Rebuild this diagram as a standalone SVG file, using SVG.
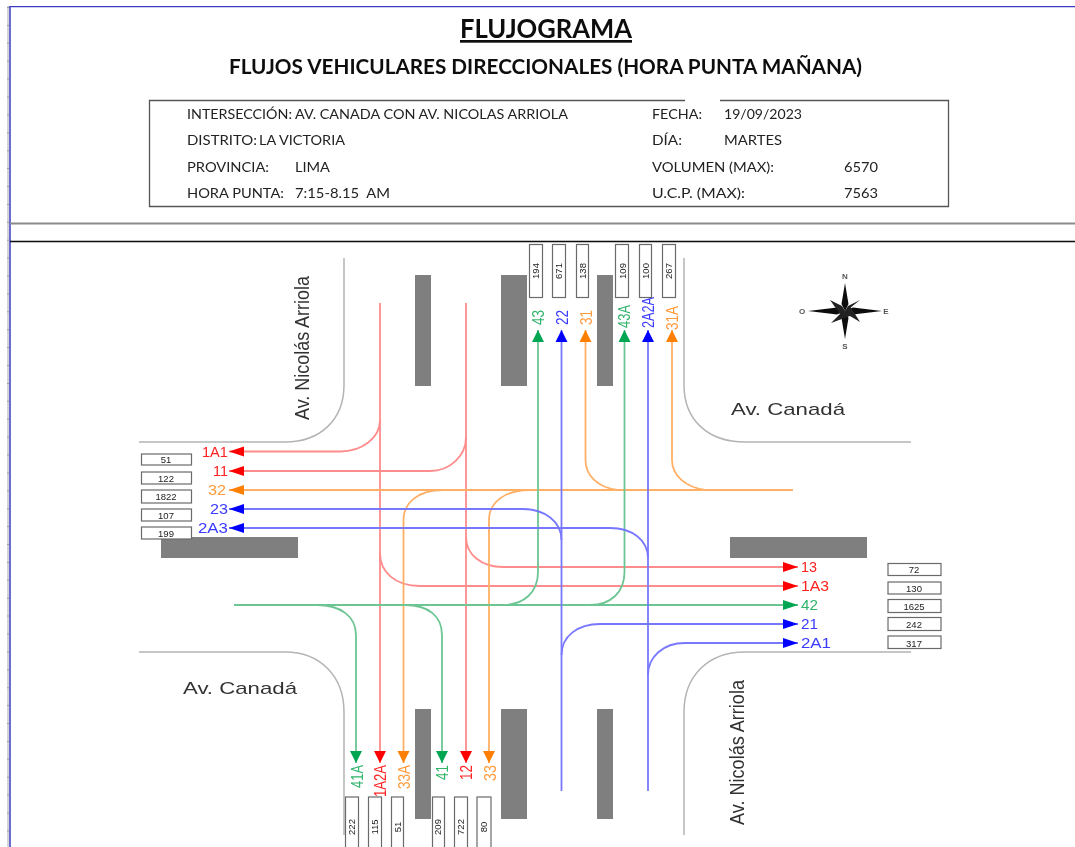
<svg xmlns="http://www.w3.org/2000/svg" width="1075" height="847" viewBox="0 0 1075 847">
<defs>
<style>
text{font-family:"Liberation Sans",Arial,sans-serif}
.hd text{font-family:Lato,"Liberation Sans",sans-serif;fill:#222}
.info{font-size:14px}
.curb{fill:none;stroke:#b4b4b4;stroke-width:1.5}
.blk{fill:#7f7f7f}
.box{fill:#fff;stroke:#6a6a6a;stroke-width:1.2}
.cnt{font-size:9.500px;fill:#222;text-anchor:middle}
.fl{fill:none;stroke-width:1.8}
.r{stroke:#ff8c8c}.g{stroke:#6cc593}.b{stroke:#7878ff}.o{stroke:#ffb066}
.lbl{font-size:15px}
.vl{font-size:17px}
.tr{fill:#ff2020}.tg{fill:#2fb36b}.tb{fill:#3a3aff}.to{fill:#ff9a3c}
.road{fill:#333}
</style>
<filter id="soft" x="0" y="0" width="100%" height="100%"><feGaussianBlur stdDeviation="0.45"/></filter>
<marker id="vr" markerUnits="userSpaceOnUse" markerWidth="13" markerHeight="13" refX="12" refY="6.500" orient="auto"><path d="M0 0.500L12 6.500L0 12.500Z" fill="#ff0000"/></marker>
<marker id="vg" markerUnits="userSpaceOnUse" markerWidth="13" markerHeight="13" refX="12" refY="6.500" orient="auto"><path d="M0 0.500L12 6.500L0 12.500Z" fill="#00a651"/></marker>
<marker id="vb" markerUnits="userSpaceOnUse" markerWidth="13" markerHeight="13" refX="12" refY="6.500" orient="auto"><path d="M0 0.500L12 6.500L0 12.500Z" fill="#0000ff"/></marker>
<marker id="vo" markerUnits="userSpaceOnUse" markerWidth="13" markerHeight="13" refX="12" refY="6.500" orient="auto"><path d="M0 0.500L12 6.500L0 12.500Z" fill="#ff8000"/></marker>
<marker id="hr" markerUnits="userSpaceOnUse" markerWidth="16" markerHeight="11" refX="15" refY="5.500" orient="auto"><path d="M0 0.500L15 5.500L0 10.500Z" fill="#ff0000"/></marker>
<marker id="hg" markerUnits="userSpaceOnUse" markerWidth="16" markerHeight="11" refX="15" refY="5.500" orient="auto"><path d="M0 0.500L15 5.500L0 10.500Z" fill="#00a651"/></marker>
<marker id="hb" markerUnits="userSpaceOnUse" markerWidth="16" markerHeight="11" refX="15" refY="5.500" orient="auto"><path d="M0 0.500L15 5.500L0 10.500Z" fill="#0000ff"/></marker>
<marker id="ho" markerUnits="userSpaceOnUse" markerWidth="16" markerHeight="11" refX="15" refY="5.500" orient="auto"><path d="M0 0.500L15 5.500L0 10.500Z" fill="#ff8000"/></marker>
</defs>
<rect width="1075" height="847" fill="#fff"/>
<g filter="url(#soft)">
<g id="frame">
<path d="M8 6V847" stroke="#d4d4d4" stroke-width="3" fill="none"/>
<path d="M7.500 7V847" stroke="#a0a0a0" stroke-width="3" stroke-dasharray="1 16.900" fill="none"/>
<path d="M9 6.500H1075" stroke="#3a3ac8" stroke-width="1.500" fill="none"/>
<path d="M10 6V847" stroke="#4a4ad0" stroke-width="1.600" fill="none"/>
<path d="M10 223.500H1075" stroke="#8a8a8a" stroke-width="1.800" fill="none"/>
<path d="M10 241.500H1075" stroke="#111" stroke-width="1.500" fill="none"/>
</g>
<g id="header" class="hd">
<text x="460" y="38" font-size="27" font-weight="700" text-decoration="underline" textLength="172" lengthAdjust="spacingAndGlyphs" style="fill:#111">FLUJOGRAMA</text>
<text x="229" y="74" font-size="21" font-weight="700" textLength="633" lengthAdjust="spacingAndGlyphs" style="fill:#111">FLUJOS VEHICULARES DIRECCIONALES (HORA PUNTA MAÑANA)</text>
</g>
<g id="info" class="hd">
<path d="M685 100.500H149.500V206.500H948.500V100.500H720" fill="none" stroke="#555" stroke-width="1.300"/>
<text class="info" x="187" y="119" textLength="105" lengthAdjust="spacingAndGlyphs">INTERSECCIÓN:</text>
<text class="info" x="295" y="119" textLength="273" lengthAdjust="spacingAndGlyphs">AV. CANADA CON AV. NICOLAS ARRIOLA</text>
<text class="info" x="187" y="145" textLength="70" lengthAdjust="spacingAndGlyphs">DISTRITO:</text>
<text class="info" x="259" y="145" textLength="86" lengthAdjust="spacingAndGlyphs">LA VICTORIA</text>
<text class="info" x="187" y="172" textLength="82" lengthAdjust="spacingAndGlyphs">PROVINCIA:</text>
<text class="info" x="295" y="172" textLength="35" lengthAdjust="spacingAndGlyphs">LIMA</text>
<text class="info" x="187" y="198" textLength="97" lengthAdjust="spacingAndGlyphs">HORA PUNTA:</text>
<text class="info" x="295" y="198" textLength="95" lengthAdjust="spacingAndGlyphs" xml:space="preserve">7:15-8.15  AM</text>
<text class="info" x="652" y="119" textLength="50" lengthAdjust="spacingAndGlyphs">FECHA:</text>
<text class="info" x="724" y="119" textLength="78" lengthAdjust="spacingAndGlyphs">19/09/2023</text>
<text class="info" x="652" y="145" textLength="30" lengthAdjust="spacingAndGlyphs">DÍA:</text>
<text class="info" x="724" y="145" textLength="58" lengthAdjust="spacingAndGlyphs">MARTES</text>
<text class="info" x="652" y="172" textLength="122" lengthAdjust="spacingAndGlyphs">VOLUMEN (MAX):</text>
<text class="info" x="844" y="172" textLength="34" lengthAdjust="spacingAndGlyphs">6570</text>
<text class="info" x="652" y="198" textLength="93" lengthAdjust="spacingAndGlyphs">U.C.P. (MAX):</text>
<text class="info" x="844" y="198" textLength="34" lengthAdjust="spacingAndGlyphs">7563</text>
</g>
<g id="roads">
<path class="curb" d="M344 258V385C344 420 320 442 285 442H139"/>
<path class="curb" d="M684 258V385C684 420 708 442 745 442H911"/>
<path class="curb" d="M139 652H285C320 652 344 676 344 712V835"/>
<path class="curb" d="M911 652H745C708 652 684 676 684 712V835"/>
<rect class="blk" x="415" y="275" width="16" height="111"/>
<rect class="blk" x="501" y="275" width="26" height="111"/>
<rect class="blk" x="597" y="275" width="16" height="111"/>
<rect class="blk" x="161" y="537" width="137" height="21"/>
<rect class="blk" x="730" y="537" width="137" height="21"/>
<rect class="blk" x="415" y="709" width="16" height="110"/>
<rect class="blk" x="501" y="709" width="26" height="110"/>
<rect class="blk" x="597" y="709" width="16" height="110"/>
<text class="road" transform="translate(309 420) rotate(-90)" font-size="20" textLength="144" lengthAdjust="spacingAndGlyphs">Av. Nicolás Arriola</text>
<text class="road" x="731" y="415" font-size="17" textLength="114" lengthAdjust="spacingAndGlyphs">Av. Canadá</text>
<text class="road" x="183" y="694" font-size="17" textLength="114" lengthAdjust="spacingAndGlyphs">Av. Canadá</text>
<text class="road" transform="translate(744 825) rotate(-90)" font-size="20" textLength="145" lengthAdjust="spacingAndGlyphs">Av. Nicolás Arriola</text>
</g>
<g id="connectors">
<path class="fl r" marker-end="url(#vr)" d="M380 303V763"/>
<path class="fl r" marker-end="url(#vr)" d="M466 303V763"/>
<path class="fl r" marker-end="url(#hr)" d="M380 420C380 438 362 451.500 340 451.500H229"/>
<path class="fl r" marker-end="url(#hr)" d="M466 437C466 456 450 471 430 471H229"/>
<path class="fl r" marker-end="url(#hr)" d="M380 553C380 572 395 586 420 586H798"/>
<path class="fl r" marker-end="url(#hr)" d="M466 537C466 555 482 567 503 567H798"/>
<path class="fl o" marker-end="url(#ho)" d="M793 490H229"/>
<path class="fl o" marker-end="url(#vo)" d="M443 490C418 490 403.500 503 403.500 520V763"/>
<path class="fl o" marker-end="url(#vo)" d="M530 490C504 490 489 503 489 520V763"/>
<path class="fl o" marker-end="url(#vo)" d="M617 490C598 487 585.500 476 585.500 460V330"/>
<path class="fl o" marker-end="url(#vo)" d="M705 490C686 487 672 476 672 460V330"/>
<path class="fl g" marker-end="url(#hg)" d="M234 605H798"/>
<path class="fl g" marker-end="url(#vg)" d="M503 605C524 605 538 592 538 572V330"/>
<path class="fl g" marker-end="url(#vg)" d="M590 605C611 605 624.500 592 624.500 572V330"/>
<path class="fl g" marker-end="url(#vg)" d="M317 605C340 605 356 616 356 635V763"/>
<path class="fl g" marker-end="url(#vg)" d="M405 605C428 605 442 616 442 635V763"/>
<path class="fl b" marker-end="url(#vb)" d="M561.500 791V330"/>
<path class="fl b" marker-end="url(#vb)" d="M648 791V330"/>
<path class="fl b" marker-end="url(#hb)" d="M561.500 540C561.500 522 545 509 523 509H229"/>
<path class="fl b" marker-end="url(#hb)" d="M648 558C648 540 632 528 610 528H229"/>
<path class="fl b" marker-end="url(#hb)" d="M561.500 655C561.500 636 578 624 600 624H798"/>
<path class="fl b" marker-end="url(#hb)" d="M648 675C648 657 663 643 685 643H798"/>
</g>
<g id="labels">
<text class="lbl tr" x="202" y="457" textLength="26" lengthAdjust="spacingAndGlyphs">1A1</text>
<text class="lbl tr" x="213" y="476" textLength="15" lengthAdjust="spacingAndGlyphs">11</text>
<text class="lbl to" x="208" y="495" textLength="18" lengthAdjust="spacingAndGlyphs">32</text>
<text class="lbl tb" x="210" y="514" textLength="18" lengthAdjust="spacingAndGlyphs">23</text>
<text class="lbl tb" x="198" y="533" textLength="30" lengthAdjust="spacingAndGlyphs">2A3</text>
<text class="lbl tr" x="801" y="572" textLength="16" lengthAdjust="spacingAndGlyphs">13</text>
<text class="lbl tr" x="801" y="591" textLength="28" lengthAdjust="spacingAndGlyphs">1A3</text>
<text class="lbl tg" x="801" y="610" textLength="17" lengthAdjust="spacingAndGlyphs">42</text>
<text class="lbl tb" x="801" y="629" textLength="17" lengthAdjust="spacingAndGlyphs">21</text>
<text class="lbl tb" x="801" y="648" textLength="30" lengthAdjust="spacingAndGlyphs">2A1</text>
<text class="vl tg" transform="translate(544 325) rotate(-90)" textLength="15" lengthAdjust="spacingAndGlyphs">43</text>
<text class="vl tb" transform="translate(568 325) rotate(-90)" textLength="15" lengthAdjust="spacingAndGlyphs">22</text>
<text class="vl to" transform="translate(592 325) rotate(-90)" textLength="15" lengthAdjust="spacingAndGlyphs">31</text>
<text class="vl tg" transform="translate(630 328) rotate(-90)" textLength="23" lengthAdjust="spacingAndGlyphs">43A</text>
<text class="vl tb" transform="translate(654 328) rotate(-90)" textLength="31" lengthAdjust="spacingAndGlyphs">2A2A</text>
<text class="vl to" transform="translate(678 330) rotate(-90)" textLength="24" lengthAdjust="spacingAndGlyphs">31A</text>
<text class="vl tg" transform="translate(363 788) rotate(-90)" textLength="23" lengthAdjust="spacingAndGlyphs">41A</text>
<text class="vl tr" transform="translate(386 797) rotate(-90)" textLength="32" lengthAdjust="spacingAndGlyphs">1A2A</text>
<text class="vl to" transform="translate(410 789) rotate(-90)" textLength="24" lengthAdjust="spacingAndGlyphs">33A</text>
<text class="vl tg" transform="translate(448 780) rotate(-90)" textLength="15" lengthAdjust="spacingAndGlyphs">41</text>
<text class="vl tr" transform="translate(472 780) rotate(-90)" textLength="15" lengthAdjust="spacingAndGlyphs">12</text>
<text class="vl to" transform="translate(496 781) rotate(-90)" textLength="16" lengthAdjust="spacingAndGlyphs">33</text>
</g>
<g id="counts-north">
<rect class="box" x="529.500" y="244.500" width="13" height="53"/><text class="cnt" transform="translate(539 271) rotate(-90)">194</text>
<rect class="box" x="552.500" y="244.500" width="13" height="53"/><text class="cnt" transform="translate(562 271) rotate(-90)">671</text>
<rect class="box" x="576.500" y="244.500" width="12" height="53"/><text class="cnt" transform="translate(586 271) rotate(-90)">138</text>
<rect class="box" x="615.500" y="244.500" width="13" height="53"/><text class="cnt" transform="translate(626 271) rotate(-90)">109</text>
<rect class="box" x="639.500" y="244.500" width="12" height="53"/><text class="cnt" transform="translate(649 271) rotate(-90)">100</text>
<rect class="box" x="662.500" y="244.500" width="13" height="53"/><text class="cnt" transform="translate(672 271) rotate(-90)">267</text>
</g>
<g id="counts-west">
<rect class="box" x="141.500" y="454" width="50" height="11"/><text class="cnt" x="166" y="463">51</text>
<rect class="box" x="141.500" y="472" width="50" height="12"/><text class="cnt" x="166" y="481.500">122</text>
<rect class="box" x="141.500" y="490" width="50" height="13"/><text class="cnt" x="166" y="500">1822</text>
<rect class="box" x="141.500" y="509" width="50" height="12"/><text class="cnt" x="166" y="518.500">107</text>
<rect class="box" x="141.500" y="527" width="50" height="12"/><text class="cnt" x="166" y="536.500">199</text>
</g>
<g id="counts-east">
<rect class="box" x="888" y="563.500" width="53" height="12"/><text class="cnt" x="914" y="573">72</text>
<rect class="box" x="888" y="582" width="53" height="12"/><text class="cnt" x="914" y="591.500">130</text>
<rect class="box" x="888" y="599.500" width="53" height="13"/><text class="cnt" x="914" y="609.500">1625</text>
<rect class="box" x="888" y="617.500" width="53" height="13"/><text class="cnt" x="914" y="627.500">242</text>
<rect class="box" x="888" y="636" width="53" height="12.500"/><text class="cnt" x="914" y="647">317</text>
</g>
<g id="counts-south">
<rect class="box" x="345.500" y="797" width="13" height="60"/><text class="cnt" transform="translate(355 827) rotate(-90)">222</text>
<rect class="box" x="368.500" y="797" width="13" height="60"/><text class="cnt" transform="translate(378 827) rotate(-90)">115</text>
<rect class="box" x="391.500" y="797" width="12" height="60"/><text class="cnt" transform="translate(401 827) rotate(-90)">51</text>
<rect class="box" x="432.500" y="797" width="12" height="60"/><text class="cnt" transform="translate(441 827) rotate(-90)">209</text>
<rect class="box" x="454.500" y="797" width="13" height="60"/><text class="cnt" transform="translate(464 827) rotate(-90)">722</text>
<rect class="box" x="477" y="797" width="14" height="60"/><text class="cnt" transform="translate(487 827) rotate(-90)">80</text>
</g>
<g id="compass">
<path d="M845 283L848.500 304L845 311L841.500 304ZM845 339L848.500 318L845 311L841.500 318ZM808 311L837 307.500L845 311L837 314.500ZM882 311L853 307.500L845 311L853 314.500Z" fill="#111"/>
<path d="M830 300L842 306L845 311L840 314ZM860 300L850 308L845 311L848 306ZM831 323L840 314L845 311L850 316ZM860 322L850 316L845 311L850 306Z" fill="#222"/>
<text x="845" y="279" font-size="8" font-weight="700" text-anchor="middle" fill="#555">N</text>
<text x="845" y="349" font-size="8" font-weight="700" text-anchor="middle" fill="#555">S</text>
<text x="802" y="314" font-size="8" font-weight="700" text-anchor="middle" fill="#555">O</text>
<text x="886" y="314" font-size="8" font-weight="700" text-anchor="middle" fill="#555">E</text>
</g>
</g>
</svg>
